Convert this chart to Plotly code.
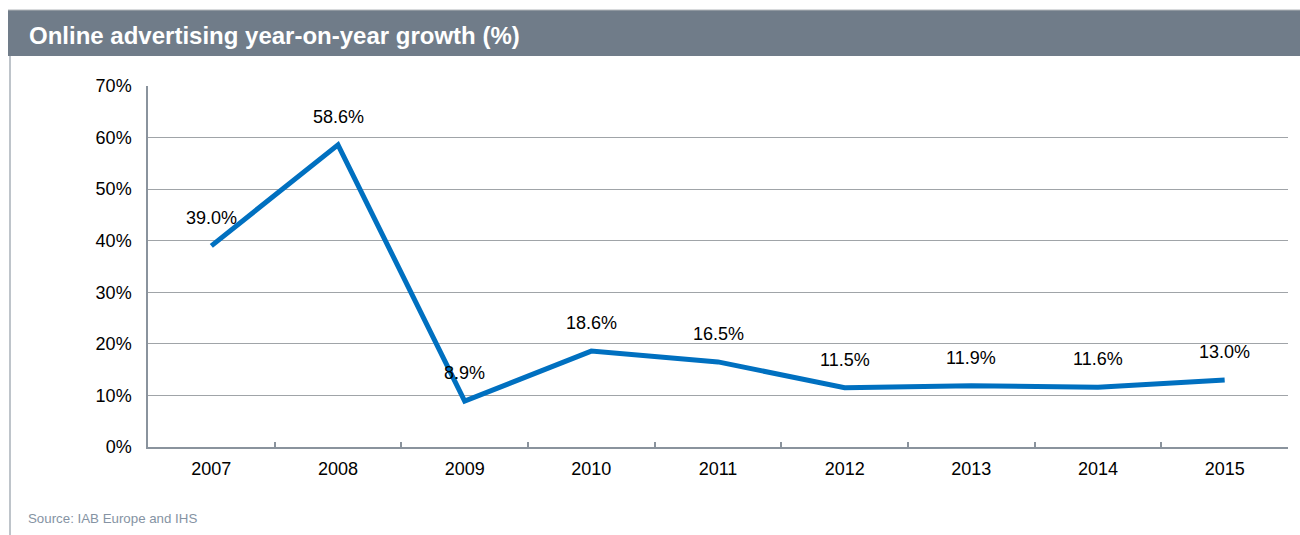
import plotly.graph_objects as go

years = ["2007", "2008", "2009", "2010", "2011", "2012", "2013", "2014", "2015"]
growth = [39.0, 58.6, 8.9, 18.6, 16.5, 11.5, 11.9, 11.6, 13.0]
labels = [f"{v:.1f}%" for v in growth]

W, H = 1300, 535
ML, MR, MT, MB = 148, 12, 86, 88
PW, PH = W - ML - MR, H - MT - MB

def px_x(p):
    return (p - ML) / PW

def px_y(p):
    return (H - MB - p) / PH

fig = go.Figure()
fig.add_trace(go.Scatter(
    x=years, y=growth, mode="lines",
    line=dict(color="#0070C0", width=5),
    hoverinfo="skip", showlegend=False,
))

for i, (y, t) in enumerate(zip(growth, labels)):
    fig.add_annotation(x=i, y=y, text=t, showarrow=False, yshift=28,
                       font=dict(family="Liberation Sans, Arial", size=18, color="#000000"))

# title bar
fig.add_shape(type="rect", xref="paper", yref="paper",
              x0=px_x(8), x1=px_x(1300), y0=px_y(56), y1=px_y(10),
              fillcolor="#707C89", line=dict(width=0), layer="below")
fig.add_shape(type="line", xref="paper", yref="paper",
              x0=px_x(8), x1=px_x(1300), y0=px_y(10), y1=px_y(10),
              line=dict(color="#B0B4B8", width=1))
# left frame line
fig.add_shape(type="line", xref="paper", yref="paper",
              x0=px_x(10), x1=px_x(10), y0=px_y(56), y1=px_y(535),
              line=dict(color="#A8B0B8", width=1.5))

fig.add_annotation(xref="paper", yref="paper", x=px_x(27), y=px_y(35),
                   xanchor="left", yanchor="middle", showarrow=False,
                   text="<b>Online advertising year-on-year growth (%)</b>",
                   font=dict(family="Liberation Sans, Arial", size=24, color="#FFFFFF"))
fig.add_annotation(xref="paper", yref="paper", x=px_x(26), y=px_y(518),
                   xanchor="left", yanchor="middle", showarrow=False,
                   text="Source: IAB Europe and IHS",
                   font=dict(family="Liberation Sans, Arial", size=13.3, color="#8593A3"))

fig.update_layout(
    width=W, height=H,
    margin=dict(l=ML, r=MR, t=MT, b=MB),
    paper_bgcolor="#FFFFFF", plot_bgcolor="#FFFFFF",
    font=dict(family="Liberation Sans, Arial", size=18, color="#000000"),
    xaxis=dict(type="category", range=[-0.5, 8.5], autorange=False,
               showgrid=False, showline=True,
               linecolor="#8A939D", linewidth=1.5,
               ticks="inside", tickson="boundaries", ticklen=5,
               tickcolor="#8A939D", tickwidth=1.5, tickangle=0,
               tickfont=dict(size=18), ticklabelstandoff=5, fixedrange=True),
    yaxis=dict(range=[0, 70], dtick=10, ticksuffix="%",
               showgrid=True, gridcolor="#A0A4A8", gridwidth=1,
               showline=True, linecolor="#8A939D", linewidth=1.5,
               ticks="", zeroline=False, tickfont=dict(size=18),
               ticklabelstandoff=11, fixedrange=True),
)

fig.write_html("out.html", config={"displayModeBar": False},
               post_script="document.body.style.margin='0';")
